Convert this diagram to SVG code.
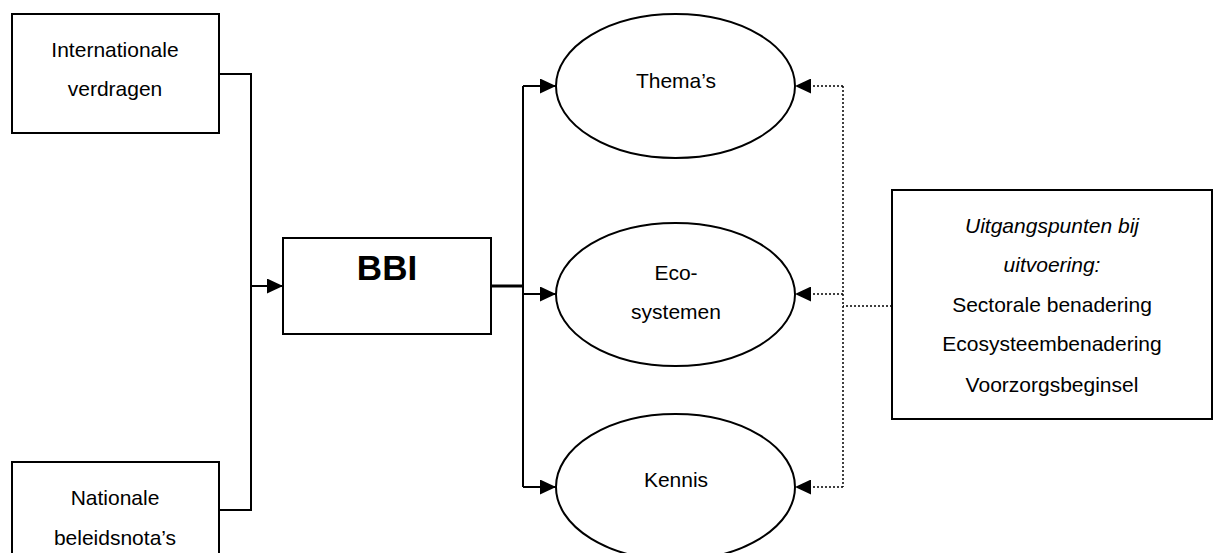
<svg xmlns="http://www.w3.org/2000/svg" width="1217" height="553" viewBox="0 0 1217 553">
<style>
.box{fill:#fff;stroke:#000;stroke-width:2}
.ell{fill:#fff;stroke:#000;stroke-width:2}
.t{font-family:"Liberation Sans",Arial,sans-serif;font-size:21px;fill:#000;text-anchor:middle}
.it{font-style:italic}
.b{font-weight:bold;font-size:35px}
.ln{fill:none;stroke:#000;stroke-width:2}
.dot{fill:none;stroke:#000;stroke-width:1.5;stroke-dasharray:2 2}
</style>
<defs>
<marker id="ah" markerUnits="userSpaceOnUse" markerWidth="16" markerHeight="15" refX="16" refY="7.5" orient="auto">
<path d="M0,0 L16,7.5 L0,15 z" fill="#000"/>
</marker>
</defs>
<rect width="1217" height="553" fill="#fff"/>
<g id="connectors">
<path class="ln" d="M219,74 H251 V510 H219"/>
<path class="ln" d="M251,286 H283" marker-end="url(#ah)"/>
<path class="ln" d="M491,286 H523" style="stroke-width:3"/>
<path class="ln" d="M523,86 V487"/>
<path class="ln" d="M523,86 H556" marker-end="url(#ah)"/>
<path class="ln" d="M523,294 H556" marker-end="url(#ah)"/>
<path class="ln" d="M523,487 H556" marker-end="url(#ah)"/>
<path class="dot" d="M843,86 V487"/>
<path class="dot" d="M892,306 H843"/>
<path class="dot" d="M843,86 H795" marker-end="url(#ah)"/>
<path class="dot" d="M843,294 H795" marker-end="url(#ah)"/>
<path class="dot" d="M843,487 H795" marker-end="url(#ah)"/>
</g>
<g id="internationale">
<rect class="box" x="12" y="14" width="207" height="119"/>
<text class="t" x="115" y="57">Internationale</text>
<text class="t" x="115" y="96">verdragen</text>
</g>
<g id="nationale">
<rect class="box" x="12" y="462" width="207" height="120"/>
<text class="t" x="115" y="505">Nationale</text>
<text class="t" x="115" y="545">beleidsnota’s</text>
</g>
<g id="bbi">
<rect class="box" x="283" y="238" width="208" height="96"/>
<text class="t b" x="387" y="280">BBI</text>
</g>
<g id="themas">
<ellipse class="ell" cx="675.5" cy="86" rx="119.5" ry="72"/>
<text class="t" x="676" y="88">Thema’s</text>
</g>
<g id="ecosystemen">
<ellipse class="ell" cx="675.5" cy="294.5" rx="119.5" ry="71.5"/>
<text class="t" x="676" y="280">Eco-</text>
<text class="t" x="676" y="319">systemen</text>
</g>
<g id="kennis">
<ellipse class="ell" cx="675.5" cy="487" rx="119.5" ry="73"/>
<text class="t" x="676" y="487">Kennis</text>
</g>
<g id="uitgangspunten">
<rect class="box" x="892" y="190" width="320" height="229"/>
<text class="t it" x="1052" y="233">Uitgangspunten bij</text>
<text class="t it" x="1052" y="272">uitvoering:</text>
<text class="t" x="1052" y="312">Sectorale benadering</text>
<text class="t" x="1052" y="351">Ecosysteembenadering</text>
<text class="t" x="1052" y="392">Voorzorgsbeginsel</text>
</g>
</svg>
